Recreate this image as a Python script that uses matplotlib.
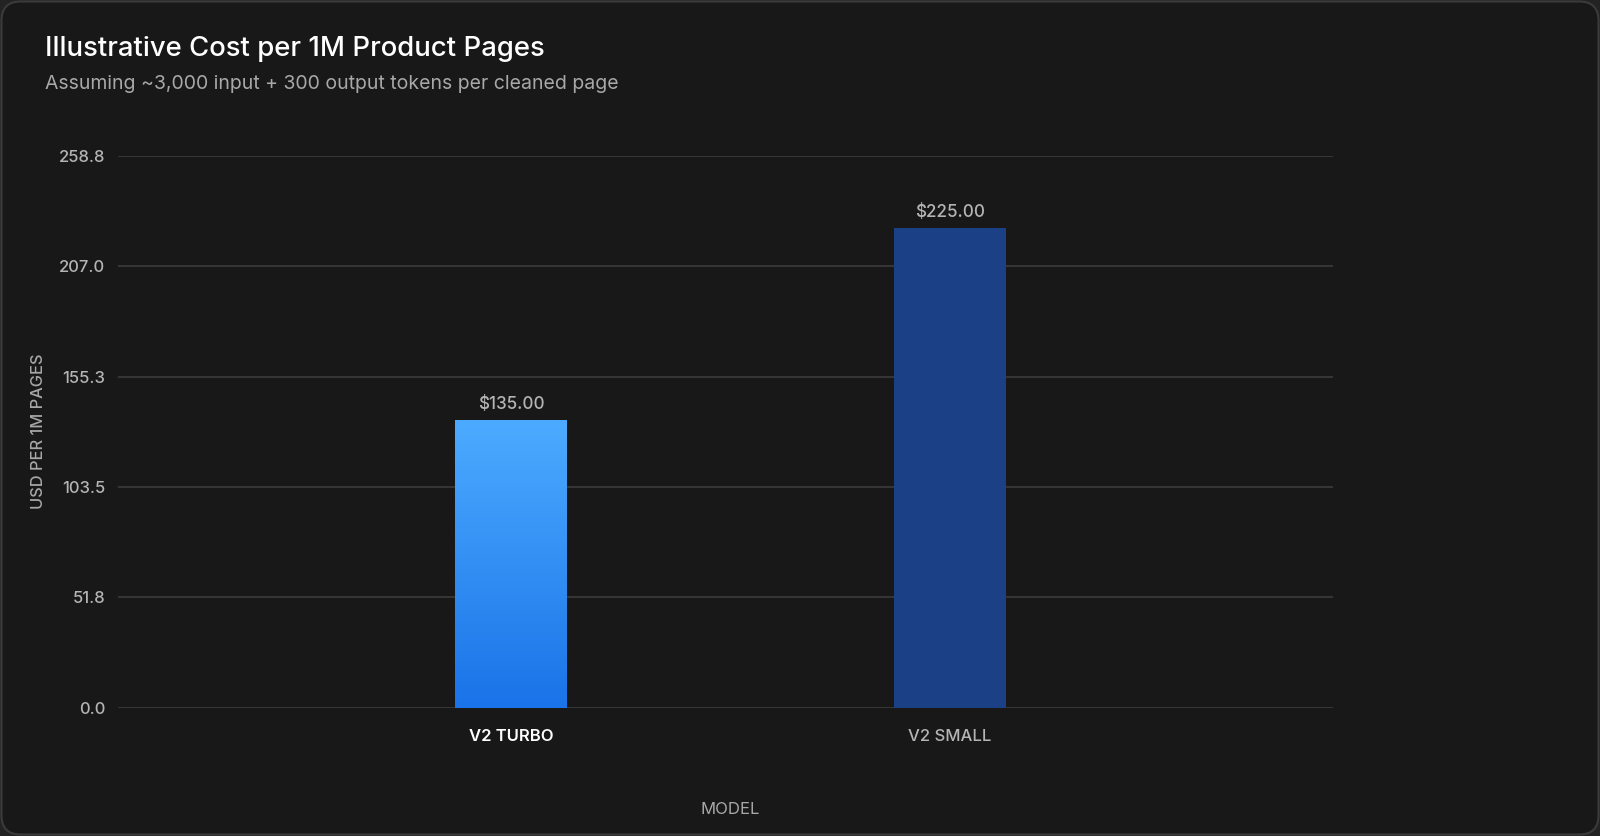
import numpy as np
import matplotlib
matplotlib.use("Agg")
import matplotlib.pyplot as plt
from matplotlib.patches import FancyBboxPatch
from matplotlib.colors import LinearSegmentedColormap

categories = ["V2 TURBO", "V2 SMALL"]
values = [135.0, 225.0]
value_labels = ["$135.00", "$225.00"]
y_ticks = [0.0, 51.8, 103.5, 155.3, 207.0, 258.8]
y_max = 258.75

title = "Illustrative Cost per 1M Product Pages"
subtitle = "Assuming ~3,000 input + 300 output tokens per cleaned page"
y_label = "USD PER 1M PAGES"
x_label = "MODEL"

BG = "#181818"
plt.rcParams['font.family'] = ['Inter', 'DejaVu Sans']

W, H = 1600, 836
fig = plt.figure(figsize=(W / 100, H / 100), dpi=100)
fig.patch.set_facecolor("#232323")

card = FancyBboxPatch((1.5 / W, 1.5 / H), (W - 3) / W, (H - 3) / H,
                      boxstyle="round,pad=0,rounding_size=0.012",
                      transform=fig.transFigure, facecolor=BG,
                      edgecolor="#3a3a3a", linewidth=1.5, zorder=-10,
                      mutation_aspect=W / H)
fig.patches.append(card)

ax_left, ax_right, ax_top, ax_bottom = 118, 1333, 155.7, 708
ax = fig.add_axes([ax_left / W, 1 - ax_bottom / H,
                   (ax_right - ax_left) / W, (ax_bottom - ax_top) / H])
ax.set_zorder(1)
ax.set_facecolor("none")

x = np.arange(len(categories))
bars = ax.bar(x, values, width=0.255, color=["#2a8af0", "#1b4085"],
              zorder=3, linewidth=0)

# gradient for first bar
grad_cmap = LinearSegmentedColormap.from_list("g", ["#1a73e8", "#4dabff"])
b0 = bars[0]
bx, by = b0.get_x(), b0.get_y()
bw, bh = b0.get_width(), b0.get_height()
grad = np.linspace(0, 1, 256).reshape(-1, 1)
im = ax.imshow(grad, extent=[bx, bx + bw, by, by + bh], origin="lower",
               cmap=grad_cmap, aspect="auto", zorder=4)
im.set_clip_path(b0)
b0.set_facecolor("none")

ax.set_xlim(-0.896, 1.874)
ax.set_ylim(0, y_max)
ax.set_yticks(y_ticks)
ax.set_yticklabels([f"{t:.1f}" for t in y_ticks])
ax.grid(axis="y", color="#3b3b3b", linewidth=1.2, zorder=0)
ax.set_axisbelow(True)
ax.set_xticks(x)
ax.set_xticklabels(categories)
for spine in ax.spines.values():
    spine.set_visible(False)
ax.tick_params(axis="both", length=0)
ax.tick_params(axis="y", colors="#b4b4b4", labelsize=12, pad=9)
ax.tick_params(axis="x", labelsize=12, pad=15)
for t in ax.get_yticklabels():
    t.set_fontweight("medium")
xt = ax.get_xticklabels()
xt[0].set_color("#ffffff")
xt[0].set_fontweight("semibold")
xt[1].set_color("#b4b4b4")
xt[1].set_fontweight("medium")

for b, lab in zip(bars, value_labels):
    ax.annotate(lab, (b.get_x() + b.get_width() / 2, b.get_height()),
                xytext=(0, 5), textcoords="offset points", ha="center",
                va="bottom", color="#b4b4b4", fontsize=12.3,
                fontweight="medium")

fig.text(45 / W, 1 - 49 / H, title, color="#ffffff", fontsize=19.8,
         ha="left", va="center", fontweight="medium")
fig.text(45 / W, 1 - 84 / H, subtitle, color="#a8a8a8", fontsize=14,
         ha="left", va="center")
fig.text(39 / W, 1 - 431 / H, y_label, color="#a8a8a8", fontsize=11.8,
         rotation=90, ha="center", va="center", fontweight="medium")
fig.text(730 / W, 1 - 809 / H, x_label, color="#a8a8a8", fontsize=12,
         ha="center", va="center")

fig.savefig("out.png", dpi=100, facecolor=fig.get_facecolor())
